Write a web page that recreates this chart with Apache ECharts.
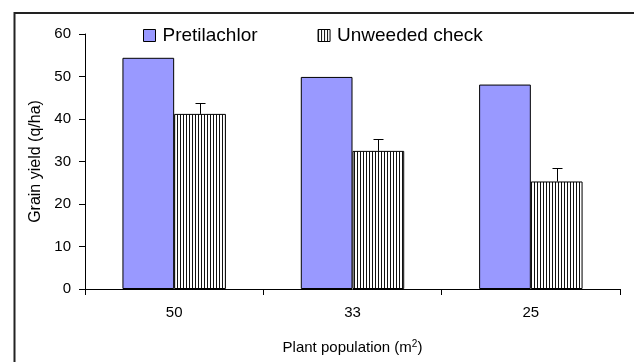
<!DOCTYPE html>
<html>
<head>
<meta charset="utf-8">
<script src="https://cdn.jsdelivr.net/npm/echarts@6/dist/echarts.min.js"></script>
<style>
html,body{margin:0;padding:0;background:#fff;}
#c{width:634px;height:362px;}
</style>
</head>
<body>
<div id="c"></div>
<script>
var categories = ['50', '33', '25'];
var pretilachlor = [54.4, 49.9, 48.1];
var unweeded = [41.2, 32.5, 25.3];
var unweededErr = [2.6, 2.9, 3.1];
var yTicks = [0, 10, 20, 30, 40, 50, 60];

var FONT = 'Arial, "Liberation Sans", sans-serif';

function makeStripe() {
  var cv = document.createElement('canvas');
  cv.width = 3; cv.height = 3;
  var ctx = cv.getContext('2d');
  ctx.fillStyle = '#ffffff';
  ctx.fillRect(0, 0, 3, 3);
  ctx.fillStyle = '#111111';
  ctx.fillRect(0, 0, 1, 3);
  return cv;
}
var stripe = {image: makeStripe(), repeat: 'repeat'};

var GAP = 0.42;
var errData = unweeded.map(function (v, i) { return [i, v, unweededErr[i]]; });

var chart = echarts.init(document.getElementById('c'), null, {renderer: 'canvas'});
chart.setOption({
  animation: false,
  backgroundColor: '#fff',
  textStyle: {fontFamily: FONT, color: '#000'},
  graphic: [{
    type: 'rect', shape: {x: 14.5, y: 13, width: 640, height: 360},
    style: {fill: 'none', stroke: '#222', lineWidth: 2}, silent: true, z: -1
  }],
  legend: {
    left: 143, top: 26, padding: 0,
    itemWidth: 12, itemHeight: 12, itemGap: 60,
    selectedMode: false,
    textStyle: {fontFamily: FONT, fontSize: 19, color: '#000', padding: [0, 0, 0, 2]},
    data: [
      {name: 'Pretilachlor', icon: 'rect', itemStyle: {color: '#9999FF', borderColor: '#000', borderWidth: 1}},
      {name: 'Unweeded check', icon: 'rect', itemStyle: {color: stripe, borderColor: '#000', borderWidth: 1}}
    ]
  },
  grid: {left: 85, right: 14, top: 34, bottom: 73, containLabel: false},
  xAxis: {
    type: 'category', data: categories,
    name: 'Plant population (m{sup|2})',
    nameLocation: 'middle', nameGap: 50,
    nameTextStyle: {fontFamily: FONT, fontSize: 15, color: '#000',
      rich: {sup: {fontFamily: FONT, fontSize: 10, color: '#000', verticalAlign: 'top', padding: [0, 0, 8, 0]}}},
    axisLine: {lineStyle: {color: '#000', width: 1}},
    axisTick: {show: true, length: 6, inside: false, lineStyle: {color: '#000'}},
    axisLabel: {fontFamily: FONT, fontSize: 15, color: '#000', margin: 16},
    splitLine: {show: false}
  },
  yAxis: {
    type: 'value', min: 0, max: 60, interval: 10,
    name: 'Grain yield (q/ha)',
    nameLocation: 'middle', nameGap: 41,
    nameTextStyle: {fontFamily: FONT, fontSize: 16, color: '#000'},
    axisLine: {show: true, lineStyle: {color: '#000', width: 1}},
    axisTick: {show: true, length: 6, inside: false, lineStyle: {color: '#000'}},
    axisLabel: {fontFamily: FONT, fontSize: 15, color: '#000', margin: 14,
      formatter: function (v) { return yTicks.indexOf(v) >= 0 ? String(v) : ''; }},
    splitLine: {show: false}
  },
  series: [
    {
      name: 'Pretilachlor', type: 'bar', data: pretilachlor,
      barGap: '0%', barCategoryGap: (GAP * 100) + '%',
      itemStyle: {color: '#9999FF', borderColor: '#000', borderWidth: 1}
    },
    {
      name: 'Unweeded check', type: 'bar', data: unweeded,
      barGap: '0%', barCategoryGap: (GAP * 100) + '%',
      itemStyle: {color: stripe, borderColor: '#000', borderWidth: 1}
    },
    {
      name: 'err', type: 'custom', data: errData, z: 10,
      renderItem: function (params, api) {
        var c = api.value(0), v = api.value(1), e = api.value(2);
        var p0 = api.coord([c, v]);
        var p1 = api.coord([c, v + e]);
        var band = api.size([1, 0])[0];
        var cx = Math.round(p0[0] + band * (1 - GAP) / 4) + 0.5;
        var y1 = Math.round(p1[1]) + 0.5;
        return {
          type: 'group',
          children: [
            {type: 'line', shape: {x1: cx, y1: p0[1], x2: cx, y2: y1}, style: {stroke: '#000', lineWidth: 1}},
            {type: 'line', shape: {x1: cx - 5, y1: y1, x2: cx + 5, y2: y1}, style: {stroke: '#000', lineWidth: 1}}
          ]
        };
      }
    }
  ]
});
</script>
</body>
</html>
